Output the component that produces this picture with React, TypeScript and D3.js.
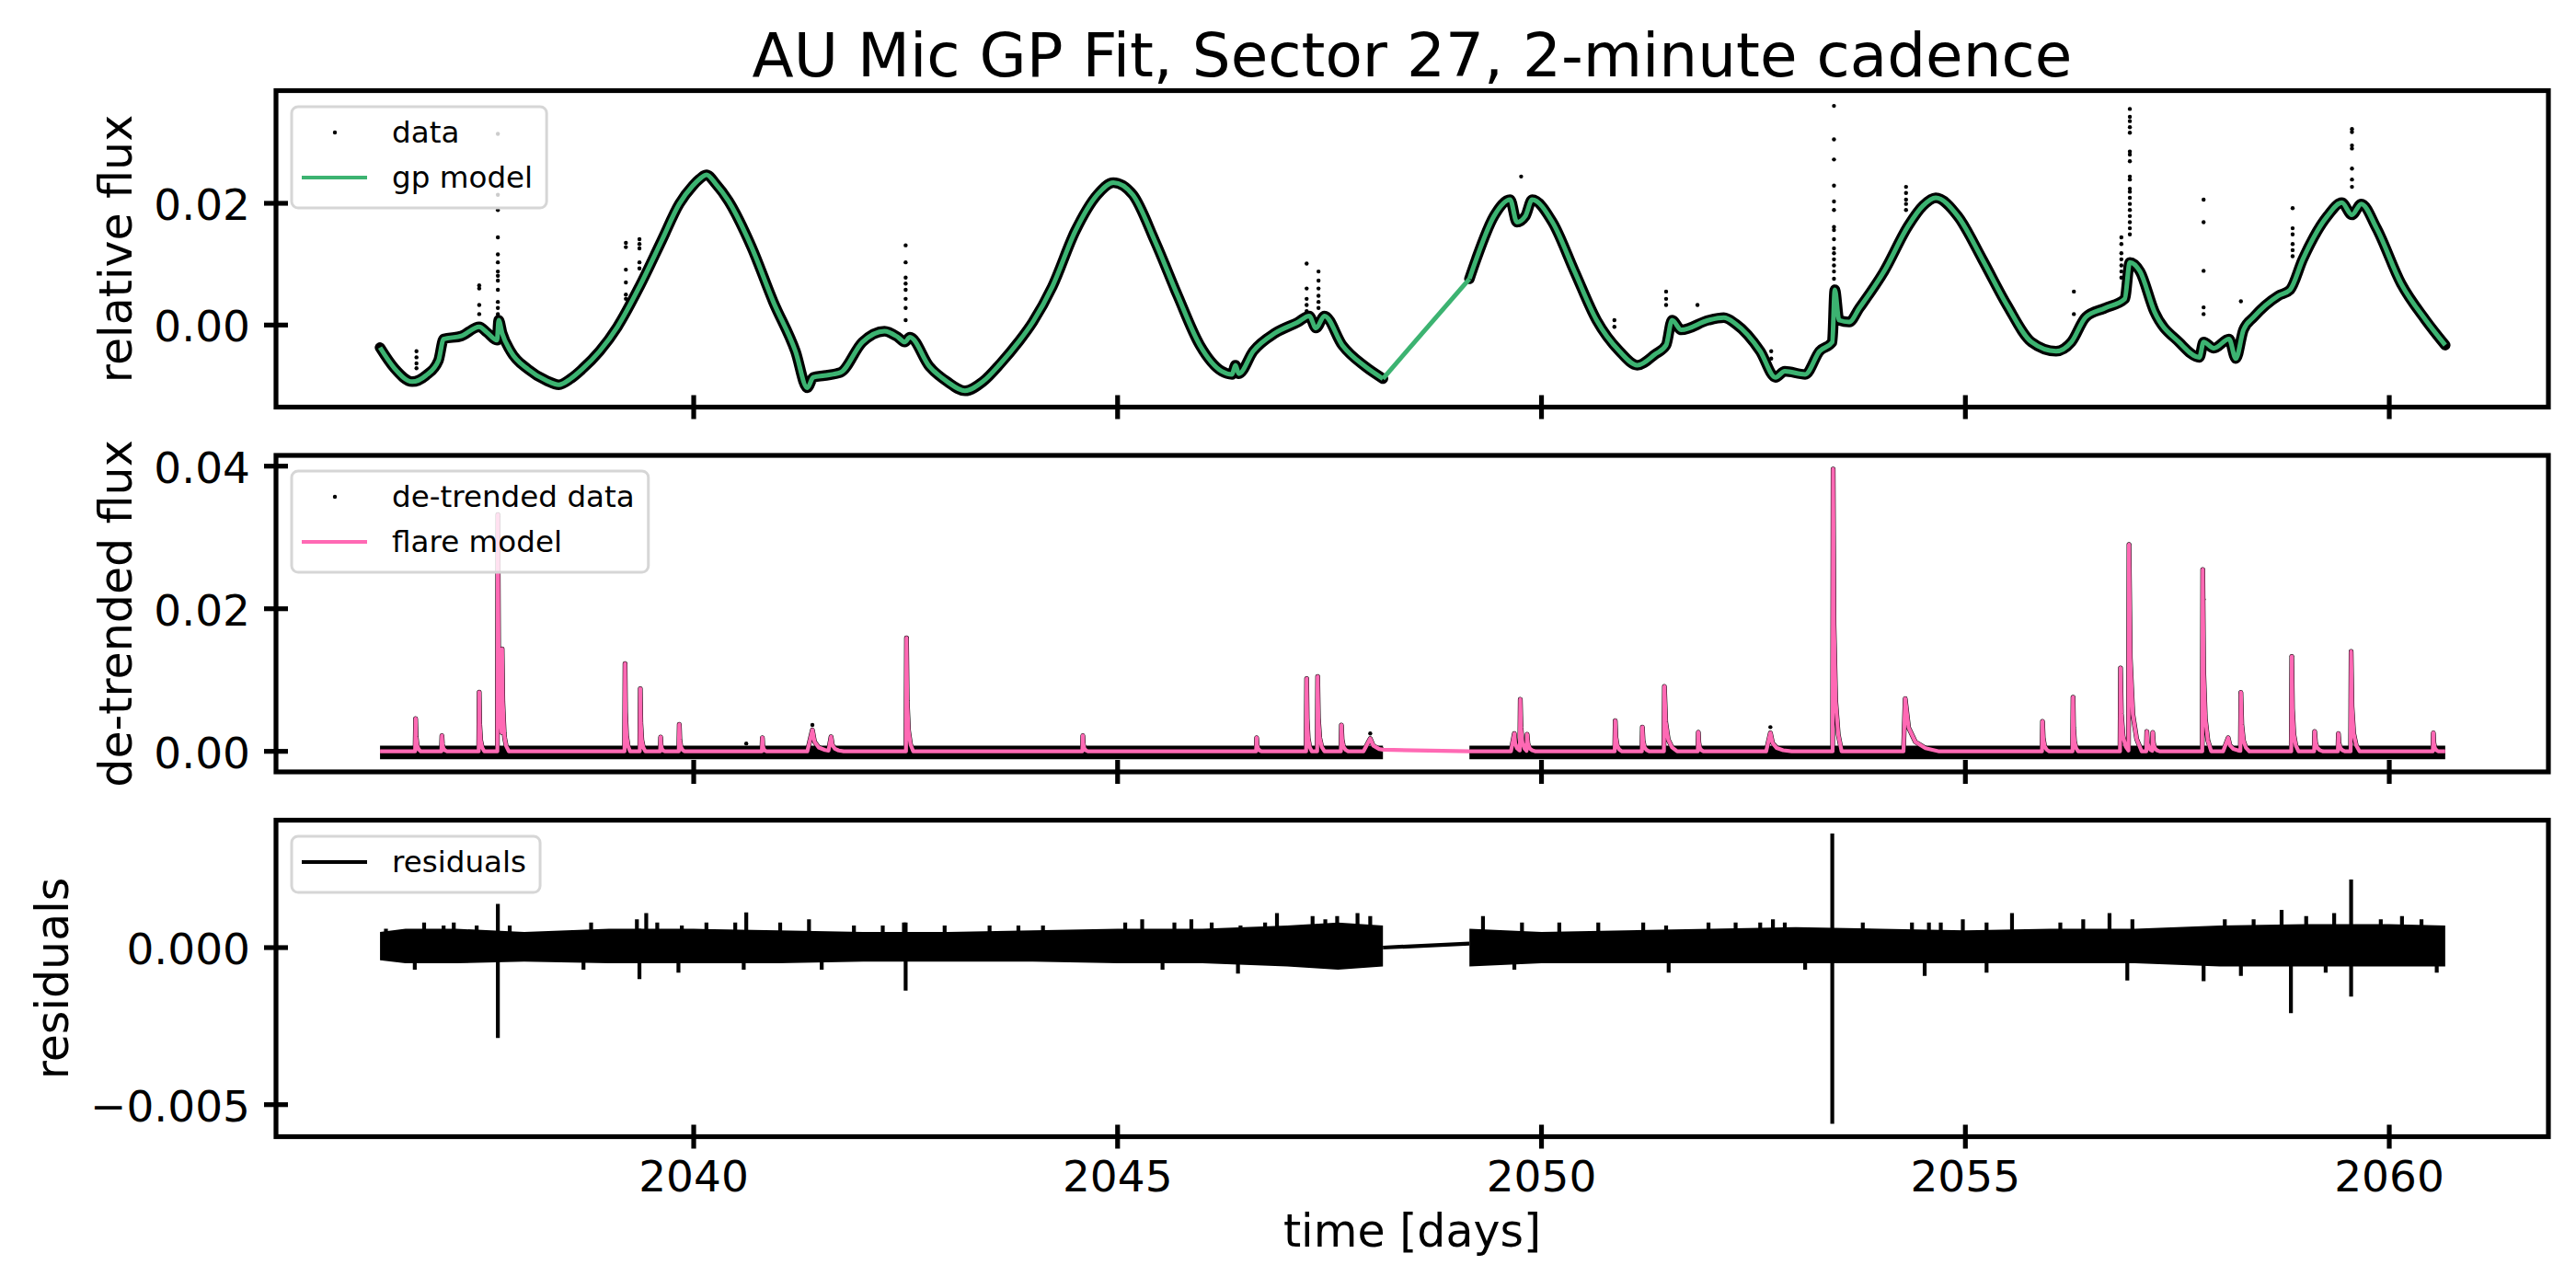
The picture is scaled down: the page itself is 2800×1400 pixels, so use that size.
import React, { useEffect, useRef } from "react";
import * as d3 from "d3";

// ---------------- data ----------------
const TITLE = "AU Mic GP Fit, Sector 27, 2-minute cadence";
const X_LABEL = "time [days]";
const xTickValues = [2040, 2045, 2050, 2055, 2060];

const relFluxTicks = [0.0, 0.02];
const relFluxTickLabels = ["0.00", "0.02"];
const detrendTicks = [0.0, 0.02, 0.04];
const detrendTickLabels = ["0.00", "0.02", "0.04"];
const residTicks = [0.0, -0.005];
const residTickLabels = ["0.000", "\u22120.005"];

// observing segments (start, end) in days
const segStart = [2036.3, 2049.15];
const segEnd = [2048.13, 2060.66];

// GP model (relative flux)
const gpTime = [
  2036.30, 2036.47, 2036.68, 2036.84, 2036.99, 2037.05, 2037.26, 2037.47, 2037.56, 2037.68, 2037.70, 2037.74,
  2037.84, 2038.05, 2038.26, 2038.41, 2038.55, 2038.68, 2038.89, 2039.10, 2039.36, 2039.62, 2039.83, 2039.99,
  2040.07, 2040.15, 2040.26, 2040.41, 2040.68, 2040.94, 2041.20, 2041.34, 2041.41, 2041.54, 2041.73, 2041.99,
  2042.25, 2042.41, 2042.49, 2042.55, 2042.78, 2042.99, 2043.20, 2043.41, 2043.62, 2043.83, 2044.00, 2044.23,
  2044.50, 2044.76, 2044.95, 2045.18, 2045.44, 2045.71, 2045.97, 2046.23, 2046.35, 2046.39, 2046.43, 2046.60,
  2046.86, 2047.13, 2047.26, 2047.34, 2047.44, 2047.65, 2047.92, 2048.13,
  2049.15, 2049.23, 2049.44, 2049.63, 2049.71, 2049.81, 2049.89, 2050.13, 2050.39, 2050.65, 2050.92, 2051.13,
  2051.34, 2051.47, 2051.54, 2051.65, 2051.97, 2052.15, 2052.29, 2052.58, 2052.76, 2052.87, 2053.11, 2053.28,
  2053.43, 2053.46, 2053.51, 2053.63, 2053.75, 2054.04, 2054.33, 2054.50, 2054.65, 2054.91, 2055.20, 2055.49,
  2055.78, 2056.07, 2056.25, 2056.42, 2056.65, 2056.88, 2056.94, 2057.06, 2057.23, 2057.52, 2057.76, 2057.81,
  2057.93, 2058.11, 2058.19, 2058.28, 2058.40, 2058.69, 2058.83, 2058.98, 2059.27, 2059.44, 2059.56, 2059.67,
  2059.85, 2060.14, 2060.43, 2060.66,
];
const gpFlux = [
  -0.0037, -0.0071, -0.0093, -0.0083, -0.0058, -0.0023, -0.0018, -0.0003, -0.0012, -0.0025, 0.0008, -0.0013,
  -0.0043, -0.0073, -0.0091, -0.0098, -0.0088, -0.0073, -0.0043, -0.0003, 0.0063, 0.0138, 0.0199, 0.0229,
  0.0240, 0.0247, 0.0232, 0.0204, 0.0129, 0.0038, -0.0043, -0.0103, -0.0086, -0.0083, -0.0078, -0.0028,
  -0.0010, -0.0020, -0.0028, -0.0020, -0.0068, -0.0093, -0.0108, -0.0093, -0.0063, -0.0028, 0.0005, 0.0063,
  0.0154, 0.0214, 0.0234, 0.0214, 0.0138, 0.0048, -0.0033, -0.0076, -0.0081, -0.0066, -0.0080, -0.0043,
  -0.0013, 0.0005, 0.0015, -0.0005, 0.0015, -0.0033, -0.0068, -0.0088,
  0.0076, 0.0108, 0.0179, 0.0206, 0.0169, 0.0179, 0.0206, 0.0169, 0.0088, 0.0008, -0.0043, -0.0066,
  -0.0048, -0.0033, 0.0008, -0.0008, 0.0008, 0.0012, 0.0002, -0.0043, -0.0086, -0.0076, -0.0081, -0.0043,
  -0.0028, 0.0058, 0.0008, 0.0005, 0.0028, 0.0088, 0.0164, 0.0196, 0.0209, 0.0179, 0.0108, 0.0033,
  -0.0028, -0.0043, -0.0028, 0.0013, 0.0028, 0.0043, 0.0103, 0.0088, 0.0022, -0.0028, -0.0053, -0.0028,
  -0.0038, -0.0023, -0.0055, -0.0008, 0.0013, 0.0048, 0.0058, 0.0108, 0.0179, 0.0201, 0.0181, 0.0199,
  0.0159, 0.0068, 0.0008, -0.0033,
];

// flare data points in the relative-flux panel (columns of points above the GP curve)
const flareColTime = [
  2036.73, 2037.47, 2037.69, 2039.2, 2039.36, 2042.5, 2047.23, 2047.37, 2049.76, 2050.86, 2051.47, 2051.84,
  2052.71, 2053.45, 2054.3, 2056.28, 2056.84, 2056.94, 2057.81, 2058.25, 2058.86, 2059.56,
];
const flareColFlux = [
  [-0.0043, -0.0053, -0.0063, -0.0071],
  [0.0065, 0.006, 0.0033, 0.0018],
  [0.0314, 0.0214, 0.0189, 0.0144, 0.0116, 0.0103, 0.0088, 0.0081, 0.0073, 0.0058, 0.0038, 0.0028, 0.0018, 0.0008],
  [0.0135, 0.0128, 0.0091, 0.007, 0.005, 0.0043],
  [0.0141, 0.0133, 0.0126, 0.0103, 0.0093],
  [0.0131, 0.0103, 0.0078, 0.0068, 0.0058, 0.0043, 0.0028, 0.0008],
  [0.0101, 0.006, 0.0043, 0.0033, 0.0023],
  [0.0088, 0.0073, 0.006, 0.0048, 0.0038, 0.0028],
  [0.0244],
  [0.0008, -0.0003],
  [0.0055, 0.0043, 0.0033],
  [0.0033],
  [-0.0043, -0.0055],
  [0.036, 0.0305, 0.0272, 0.0229, 0.0203, 0.0189, 0.0161, 0.0156, 0.0141, 0.0126, 0.0118, 0.0108, 0.0098, 0.0088, 0.0076, 0.0063],
  [0.0227, 0.0217, 0.0206, 0.0199, 0.0189],
  [0.0055, 0.0018],
  [0.0144, 0.0133, 0.0118, 0.0108, 0.0098, 0.0088, 0.0078],
  [0.0355, 0.0342, 0.0335, 0.0325, 0.0316, 0.0285, 0.028, 0.0269, 0.0244, 0.0239, 0.0224, 0.0219, 0.0209, 0.0199, 0.0189, 0.0179, 0.0169, 0.0159, 0.0149],
  [0.0206, 0.0169, 0.0089, 0.0029, 0.0018],
  [0.0039],
  [0.0192, 0.0159, 0.0149, 0.0133, 0.0123, 0.0113],
  [0.0322, 0.0317, 0.0295, 0.029, 0.0257, 0.0239, 0.0227],
];

// flare model: peak time, peak amplitude, decay length (days), rise length (days)
const flareTime = [
  2036.72, 2037.03, 2037.47, 2037.69, 2037.74, 2039.19, 2039.37, 2039.61, 2039.83, 2040.81, 2041.4, 2041.62,
  2042.51, 2044.59, 2046.64, 2047.23, 2047.36, 2047.64, 2047.98, 2049.68, 2049.75, 2049.83, 2050.87, 2051.19,
  2051.45, 2051.85, 2052.7, 2053.44, 2054.29, 2055.91, 2056.27, 2056.83, 2056.93, 2057.14, 2057.21, 2057.8,
  2058.1, 2058.25, 2058.85, 2059.12, 2059.4, 2059.55, 2060.52,
];
const flareAmp = [
  0.0046, 0.0022, 0.0083, 0.0332, 0.0125, 0.0123, 0.0088, 0.002, 0.0038, 0.0019, 0.003, 0.002,
  0.0159, 0.0022, 0.0019, 0.0102, 0.0105, 0.0037, 0.0018, 0.0025, 0.0072, 0.0024, 0.0043, 0.0034,
  0.0091, 0.0027, 0.0026, 0.0396, 0.0074, 0.0042, 0.0076, 0.0117, 0.029, 0.0028, 0.0026, 0.0255,
  0.0019, 0.0082, 0.0133, 0.0028, 0.0025, 0.014, 0.0026,
];
const flareDecay = [
  0.06, 0.06, 0.06, 0.08, 0.08, 0.06, 0.06, 0.05, 0.06, 0.05, 0.25, 0.15,
  0.08, 0.06, 0.06, 0.06, 0.08, 0.08, 0.35, 0.1, 0.08, 0.1, 0.08, 0.08,
  0.15, 0.06, 0.25, 0.1, 0.4, 0.08, 0.06, 0.1, 0.15, 0.08, 0.08, 0.1,
  0.2, 0.1, 0.08, 0.1, 0.08, 0.1, 0.06,
];
const flareRise = [
  0.006, 0.006, 0.006, 0.006, 0.006, 0.006, 0.006, 0.006, 0.006, 0.006, 0.06, 0.03,
  0.006, 0.006, 0.006, 0.006, 0.006, 0.006, 0.08, 0.04, 0.006, 0.006, 0.006, 0.006,
  0.006, 0.006, 0.05, 0.006, 0.02, 0.006, 0.006, 0.006, 0.006, 0.006, 0.006, 0.006,
  0.06, 0.006, 0.006, 0.006, 0.006, 0.006, 0.006,
];

// de-trended data points visible on the flares
const p2DotTime = [2037.69, 2042.51, 2042.51, 2041.4, 2053.44, 2053.44, 2053.44, 2053.44, 2053.44, 2053.44, 2053.44, 2053.44, 2056.93, 2058.25, 2058.85, 2057.81, 2040.62, 2052.7, 2049.75, 2047.98];
const p2DotFlux = [0.0329, 0.0159, 0.0097, 0.0037, 0.0363, 0.03, 0.0272, 0.0212, 0.0174, 0.015, 0.0121, 0.009, 0.029, 0.0082, 0.0133, 0.0213, 0.0011, 0.0034, 0.0072, 0.0025];
const p2BandLo = -0.0011;
const p2BandHi = 0.0008;

// residual envelope: time, lower, upper
const residEnvTime = [
  2036.3, 2036.6, 2037.2, 2038.0, 2039.0, 2040.0, 2041.0, 2042.0, 2043.0, 2044.0, 2045.0, 2046.0, 2047.0, 2047.6, 2048.13,
  2049.15, 2050.0, 2051.0, 2052.0, 2053.0, 2054.0, 2055.0, 2056.0, 2057.0, 2058.0, 2059.0, 2060.0, 2060.66,
];
const residEnvLo = [
  -0.0004, -0.0005, -0.0005, -0.00045, -0.0005, -0.0005, -0.0005, -0.00045, -0.00045, -0.00045, -0.0005, -0.0005, -0.0006, -0.0007, -0.0006,
  -0.0006, -0.0005, -0.0005, -0.0005, -0.0005, -0.0005, -0.0005, -0.0005, -0.0005, -0.0006, -0.0006, -0.0006, -0.0006,
];
const residEnvHi = [
  0.0005, 0.0006, 0.0006, 0.0005, 0.0006, 0.0006, 0.00055, 0.0005, 0.0005, 0.00055, 0.0006, 0.0006, 0.0007, 0.0008, 0.0007,
  0.0006, 0.0005, 0.00055, 0.0006, 0.00065, 0.0006, 0.00055, 0.0006, 0.0006, 0.0007, 0.00075, 0.00075, 0.0007,
];
// large residual excursions: time, low, high
const residSpikeTime = [2037.69, 2053.43, 2059.55, 2058.84, 2042.5, 2039.36];
const residSpikeLo = [-0.00288, -0.00561, -0.00156, -0.00209, -0.00137, -0.001];
const residSpikeHi = [0.00139, 0.00363, 0.00217, 0.0006, 0.0008, 0.0006];
// small residual excursions
const residTickTime = [
  2036.37, 2036.82, 2037.05, 2037.17, 2037.44, 2037.83, 2038.79, 2039.33, 2039.44, 2039.57, 2039.86, 2040.15,
  2040.49, 2040.62, 2041.02, 2041.36, 2041.89, 2042.23, 2042.48, 2042.96, 2043.49, 2043.83, 2044.12, 2045.09,
  2045.29, 2045.67, 2045.87, 2046.11, 2046.45, 2046.74, 2046.88, 2047.3, 2047.45, 2047.59, 2047.83, 2047.98,
  2049.31, 2049.77, 2050.21, 2050.67, 2051.2, 2051.47, 2051.97, 2052.29, 2052.58, 2052.73, 2052.87, 2053.79,
  2054.37, 2054.57, 2054.71, 2054.97, 2055.25, 2055.55, 2056.12, 2056.39, 2056.7, 2056.97, 2058.06, 2058.4,
  2058.73, 2059.02, 2059.35, 2059.9, 2060.15, 2060.38,
  2036.71, 2038.7, 2039.82, 2040.59, 2041.51, 2045.53, 2046.42, 2049.68, 2051.5, 2053.11, 2054.52, 2055.25,
  2056.91, 2057.81, 2058.25, 2059.25, 2060.56,
];
const residTickVal = [
  0.0006, 0.0008, 0.0007, 0.0008, 0.0007, 0.0007, 0.0008, 0.0009, 0.0011, 0.0008, 0.0007, 0.0008,
  0.0008, 0.00112, 0.0008, 0.0009, 0.0007, 0.0007, 0.0008, 0.0007, 0.0007, 0.0007, 0.0007, 0.0008,
  0.0009, 0.0008, 0.0009, 0.0008, 0.0007, 0.0008, 0.0011, 0.001, 0.0009, 0.001, 0.0011, 0.001,
  0.001, 0.0008, 0.0008, 0.0008, 0.0008, 0.0007, 0.0008, 0.0008, 0.0008, 0.0009, 0.0008, 0.0008,
  0.0008, 0.0008, 0.0008, 0.0009, 0.0008, 0.0011, 0.0008, 0.0009, 0.0011, 0.0009, 0.0009, 0.0009,
  0.0012, 0.001, 0.0011, 0.0009, 0.001, 0.0009,
  -0.0007, -0.0007, -0.0008, -0.0007, -0.0007, -0.0007, -0.00083, -0.0007, -0.0008, -0.0007, -0.0009, -0.0008,
  -0.00105, -0.00107, -0.0009, -0.0008, -0.0008,
];
// residual values at the two ends of the data gap
const residGapVal = [0.0, 0.00013];

// ---------------- layout & style ----------------
const W = 2800;
const H = 1400;
const AX_L = 300;
const AX_R = 2770;
const PANEL_H = 344;
const PANEL_TOPS = [98.5, 495, 891.5];
const FONT = "'DejaVu Sans', 'Liberation Sans', sans-serif";
const GREEN = "#3cb371";
const PINK = "#ff69b4";
const TICK_FS = 47;
const LABEL_FS = 49;
const TITLE_FS = 66;
const LEGEND_FS = 32.6;
const SPINE_W = 5.2;
const TICK_HALF = 13;
const LINE_W = 4.2;

type Pt = [number, number];

export default function App() {
  const ref = useRef<SVGSVGElement>(null);

  useEffect(() => {
    const svg = d3.select(ref.current as SVGSVGElement);
    svg.selectAll("*").remove();
    svg.append("rect").attr("x", 0).attr("y", 0).attr("width", W).attr("height", H).attr("fill", "#fff");

    const x = d3.scaleLinear().domain([2035.073, 2061.877]).range([AX_L, AX_R]);
    const domains: [number, number][] = [
      [-0.01348, 0.03851],
      [-0.00288, 0.04151],
      [-0.006019, 0.004057],
    ];
    const ys = domains.map((dm, i) =>
      d3.scaleLinear().domain(dm).range([PANEL_TOPS[i] + PANEL_H, PANEL_TOPS[i]])
    );

    const defs = svg.append("defs");
    PANEL_TOPS.forEach((top, i) => {
      defs.append("clipPath").attr("id", `clip${i}`)
        .append("rect").attr("x", AX_L).attr("y", top).attr("width", AX_R - AX_L).attr("height", PANEL_H);
    });

    const inSeg = (t: number, s: number) => t >= segStart[s] - 1e-9 && t <= segEnd[s] + 1e-9;

    // ---------- Panel 1 ----------
    {
      const y = ys[0];
      const g = svg.append("g").attr("clip-path", "url(#clip0)");
      const smooth = d3.line<Pt>().x((d) => x(d[0])).y((d) => y(d[1])).curve(d3.curveMonotoneX);
      const pts: Pt[] = gpTime.map((t, i) => [t, gpFlux[i]]);
      [0, 1].forEach((s) => {
        g.append("path").attr("d", smooth(pts.filter((p) => inSeg(p[0], s))) || "")
          .attr("fill", "none").attr("stroke", "#000").attr("stroke-width", 11.5)
          .attr("stroke-linejoin", "round").attr("stroke-linecap", "round");
      });
      const dots: Pt[] = [];
      flareColTime.forEach((t, i) => flareColFlux[i].forEach((f) => dots.push([t, f])));
      g.selectAll("circle.fd").data(dots).enter().append("circle")
        .attr("cx", (d) => x(d[0])).attr("cy", (d) => y(d[1])).attr("r", 2.2).attr("fill", "#000");
      // model: smooth inside each segment, straight across the gap
      const segPaths = [0, 1].map((s) => smooth(pts.filter((p) => inSeg(p[0], s))) || "");
      const gapLine = d3.line<Pt>().x((d) => x(d[0])).y((d) => y(d[1]));
      const i0 = gpTime.indexOf(segEnd[0]);
      const gapD = gapLine([pts[i0], pts[i0 + 1]]) || "";
      [segPaths[0], gapD, segPaths[1]].forEach((d) => {
        g.append("path").attr("d", d).attr("fill", "none").attr("stroke", GREEN)
          .attr("stroke-width", 5).attr("stroke-linejoin", "round");
      });
    }

    // ---------- Panel 2 ----------
    {
      const y = ys[1];
      const g = svg.append("g").attr("clip-path", "url(#clip1)");
      const profile = (t: number, k: number) => {
        const t0 = flareTime[k], a = flareAmp[k], d = flareDecay[k], r = flareRise[k];
        const kn: Pt[] = [
          [t0 - r, 0], [t0, a], [t0 + 0.1 * d, 0.45 * a], [t0 + 0.3 * d, 0.18 * a],
          [t0 + 0.6 * d, 0.06 * a], [t0 + d, 0],
        ];
        if (t <= kn[0][0] || t >= kn[kn.length - 1][0]) return 0;
        for (let j = 0; j < kn.length - 1; j++) {
          if (t >= kn[j][0] && t <= kn[j + 1][0]) {
            const u = (t - kn[j][0]) / (kn[j + 1][0] - kn[j][0] || 1);
            return kn[j][1] + u * (kn[j + 1][1] - kn[j][1]);
          }
        }
        return 0;
      };
      const times: number[] = [...segStart, ...segEnd];
      flareTime.forEach((t0, k) => {
        const d = flareDecay[k], r = flareRise[k];
        [t0 - r, t0, t0 + 0.1 * d, t0 + 0.3 * d, t0 + 0.6 * d, t0 + d].forEach((t) => {
          if (inSeg(t, 0) || inSeg(t, 1)) times.push(t);
        });
      });
      times.sort((a, b) => a - b);
      const model: Pt[] = times.map((t) => [t, flareTime.reduce((s, _, k) => s + profile(t, k), 0)]);
      const line = d3.line<Pt>().x((d) => x(d[0])).y((d) => y(d[1]));
      const area = d3.area<Pt>().x((d) => x(d[0])).y0(y(p2BandLo)).y1(y(p2BandHi));
      [0, 1].forEach((s) => {
        g.append("path").attr("d", area([[segStart[s], 0], [segEnd[s], 0]]) || "").attr("fill", "#000");
        g.append("path").attr("d", line(model.filter((p) => inSeg(p[0], s))) || "")
          .attr("fill", "none").attr("stroke", "#000").attr("stroke-width", 5.2).attr("stroke-linejoin", "round");
      });
      const dots: Pt[] = p2DotTime.map((t, i) => [t, p2DotFlux[i]]);
      g.selectAll("circle.d2").data(dots).enter().append("circle")
        .attr("cx", (d) => x(d[0])).attr("cy", (d) => y(d[1])).attr("r", 2.2).attr("fill", "#000");
      g.append("path").attr("d", line(model) || "").attr("fill", "none").attr("stroke", PINK)
        .attr("stroke-width", LINE_W).attr("stroke-linejoin", "round");
    }

    // ---------- Panel 3 ----------
    {
      const y = ys[2];
      const g = svg.append("g").attr("clip-path", "url(#clip2)");
      type E = { t: number; lo: number; hi: number };
      const env: E[] = residEnvTime.map((t, i) => ({ t, lo: residEnvLo[i], hi: residEnvHi[i] }));
      const area = d3.area<E>().x((d) => x(d.t)).y0((d) => y(d.lo)).y1((d) => y(d.hi));
      [0, 1].forEach((s) => {
        g.append("path").attr("d", area(env.filter((e) => inSeg(e.t, s))) || "").attr("fill", "#000");
      });
      const line = d3.line<Pt>().x((d) => x(d[0])).y((d) => y(d[1]));
      g.append("path").attr("d", line([[segEnd[0], residGapVal[0]], [segStart[1], residGapVal[1]]]) || "")
        .attr("stroke", "#000").attr("stroke-width", LINE_W).attr("fill", "none");
      residTickTime.forEach((t, i) => {
        g.append("line").attr("x1", x(t)).attr("x2", x(t)).attr("y1", y(0)).attr("y2", y(residTickVal[i]))
          .attr("stroke", "#000").attr("stroke-width", 4.2);
      });
      residSpikeTime.forEach((t, i) => {
        g.append("line").attr("x1", x(t)).attr("x2", x(t)).attr("y1", y(residSpikeLo[i])).attr("y2", y(residSpikeHi[i]))
          .attr("stroke", "#000").attr("stroke-width", 4.2);
      });
    }

    // ---------- axes ----------
    const yTickSets = [relFluxTicks, detrendTicks, residTicks];
    const yTickLabelSets = [relFluxTickLabels, detrendTickLabels, residTickLabels];
    const yLabels = ["relative flux", "de-trended flux", "residuals"];
    PANEL_TOPS.forEach((top, i) => {
      const y = ys[i];
      const g = svg.append("g");
      const bottom = top + PANEL_H;
      g.append("rect").attr("x", AX_L).attr("y", top).attr("width", AX_R - AX_L).attr("height", PANEL_H)
        .attr("fill", "none").attr("stroke", "#000").attr("stroke-width", SPINE_W);
      xTickValues.forEach((t) => {
        g.append("line").attr("x1", x(t)).attr("x2", x(t)).attr("y1", bottom - TICK_HALF).attr("y2", bottom + TICK_HALF)
          .attr("stroke", "#000").attr("stroke-width", SPINE_W);
        if (i === 2) {
          g.append("text").attr("x", x(t)).attr("y", 1295).attr("text-anchor", "middle")
            .attr("font-family", FONT).attr("font-size", TICK_FS).attr("fill", "#000").text(String(t));
        }
      });
      let minLeft = Infinity;
      yTickSets[i].forEach((v, j) => {
        g.append("line").attr("x1", AX_L - TICK_HALF).attr("x2", AX_L + TICK_HALF).attr("y1", y(v)).attr("y2", y(v))
          .attr("stroke", "#000").attr("stroke-width", SPINE_W);
        const tx = g.append("text").attr("x", 272).attr("y", y(v) + 0.38 * TICK_FS).attr("text-anchor", "end")
          .attr("font-family", FONT).attr("font-size", TICK_FS).attr("fill", "#000").text(yTickLabelSets[i][j]);
        const bb = (tx.node() as SVGTextElement).getBBox();
        minLeft = Math.min(minLeft, bb.x);
      });
      const lx = minLeft - 24;
      const ly = top + PANEL_H / 2;
      g.append("text").attr("transform", `translate(${lx},${ly}) rotate(-90)`).attr("text-anchor", "middle")
        .attr("font-family", FONT).attr("font-size", LABEL_FS).attr("fill", "#000").text(yLabels[i]);
    });

    // ---------- legends ----------
    type Entry = { kind: "dot" | "line"; color: string; label: string };
    const legend = (top: number, entries: Entry[]) => {
      const g = svg.append("g");
      const left = 317;
      const rect = g.append("rect");
      let maxLen = 0;
      entries.forEach((e, k) => {
        const cy = top + 28 + k * 49;
        if (e.kind === "dot") {
          g.append("circle").attr("cx", 364).attr("cy", cy).attr("r", 2.2).attr("fill", e.color);
        } else {
          g.append("line").attr("x1", 328).attr("x2", 399).attr("y1", cy).attr("y2", cy)
            .attr("stroke", e.color).attr("stroke-width", LINE_W);
        }
        const t = g.append("text").attr("x", 426).attr("y", cy + 10.8).attr("font-family", FONT)
          .attr("font-size", LEGEND_FS).attr("fill", "#000").text(e.label);
        maxLen = Math.max(maxLen, (t.node() as SVGTextElement).getComputedTextLength());
      });
      rect.attr("x", left).attr("y", top).attr("width", 426 + maxLen + 15 - left)
        .attr("height", 61 + 49 * (entries.length - 1)).attr("rx", 7).attr("ry", 7)
        .attr("fill", "#fff").attr("fill-opacity", 0.8).attr("stroke", "#d6d6d6").attr("stroke-width", 3);
    };
    legend(PANEL_TOPS[0] + 17.5, [
      { kind: "dot", color: "#000", label: "data" },
      { kind: "line", color: GREEN, label: "gp model" },
    ]);
    legend(PANEL_TOPS[1] + 17, [
      { kind: "dot", color: "#000", label: "de-trended data" },
      { kind: "line", color: PINK, label: "flare model" },
    ]);
    legend(PANEL_TOPS[2] + 17.5, [{ kind: "line", color: "#000", label: "residuals" }]);

    // ---------- title & x label ----------
    svg.append("text").attr("x", (AX_L + AX_R) / 2).attr("y", 83).attr("text-anchor", "middle")
      .attr("font-family", FONT).attr("font-size", TITLE_FS).attr("fill", "#000").text(TITLE);
    svg.append("text").attr("x", (AX_L + AX_R) / 2).attr("y", 1355).attr("text-anchor", "middle")
      .attr("font-family", FONT).attr("font-size", LABEL_FS).attr("fill", "#000").text(X_LABEL);
  }, []);

  return (
    <svg
      ref={ref}
      width={W}
      height={H}
      style={{ position: "absolute", left: 0, top: 0, display: "block", background: "#fff" }}
    />
  );
}
